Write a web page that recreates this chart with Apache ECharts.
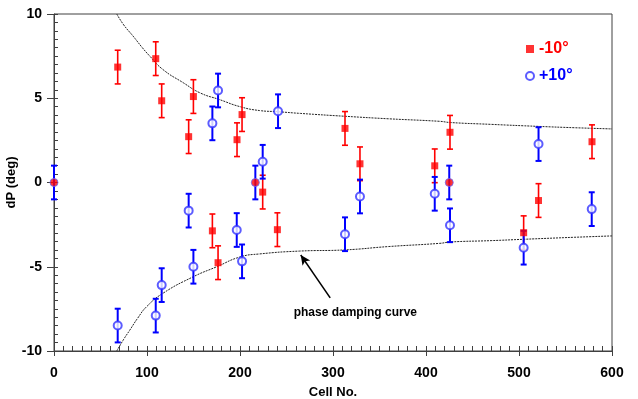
<!DOCTYPE html>
<html><head><meta charset="utf-8">
<script src="https://cdn.jsdelivr.net/npm/echarts@6/dist/echarts.min.js"></script>
<style>html,body{margin:0;padding:0;background:#fff}#c{width:638px;height:399px}</style>
</head><body><div id="c"></div>
<script>
// -10° series: [cell, dP]
const redX = [68.5, 109.4, 115.8, 144.8, 149.9, 170.3, 176.4, 196.8, 202.2, 224.4, 240.2, 312.9, 329, 409.4, 425.8, 505, 521, 578.5];
const redY = [6.85, 7.35, 4.85, 2.72, 5.1, -2.87, -4.76, 2.54, 4.03, -0.57, -2.8, 3.21, 1.11, 0.99, 2.98, -2.98, -1.07, 2.42];
// +10° series
const blueX = [68.5, 109.4, 115.8, 144.8, 149.9, 170.3, 176.4, 196.5, 202.2, 224.4, 240.9, 312.9, 329, 409.4, 425.8, 505, 521, 578.2];
const blueY = [-8.49, -7.9, -6.09, -1.67, -5.0, 3.51, 5.46, -2.82, -4.68, 1.23, 4.23, -3.07, -0.83, -0.67, -2.54, -3.87, 2.28, -1.58];
// reference (zero) cells
const zeroX = [0, 216.5, 425];
const zeroY = [0, 0, 0];
const errHalf = 1.0;
// phase damping curve
const upperX = [67.5, 75, 85, 95, 103, 117, 139, 157, 178, 200, 221, 241, 265, 313, 360, 415, 426, 470, 521, 560, 600];
const upperY = [10, 9.35, 8.69, 8.0, 7.5, 6.71, 5.92, 5.32, 4.92, 4.5, 4.27, 4.2, 4.1, 3.93, 3.78, 3.63, 3.56, 3.45, 3.33, 3.25, 3.18];
const lowerX = [67.5, 75, 81.4, 90, 99.4, 117, 149.5, 175, 200, 221, 264, 313, 360, 415, 426, 470, 505, 560, 600];
const lowerY = [-10, -9.3, -8.77, -8.05, -7.38, -6.58, -5.6, -5.0, -4.42, -4.24, -4.07, -4.0, -3.8, -3.61, -3.53, -3.45, -3.37, -3.25, -3.17];
const xTicks = [0, 100, 200, 300, 400, 500, 600];
const yTicks = [-10, -5, 0, 5, 10];
const annoText = 'phase damping curve';
const arrowFrom = [297, -6.85];
const arrowTo = [265.3, -4.3];
const annoAt = [324, -7.7];

const FONT = '"Liberation Sans", Arial, sans-serif';
const RED = '#ff0000', BLUE = '#0000ff';

function zip(a, b) { return a.map((v, i) => [v, b[i]]); }
function errData(xs, ys) { return xs.map((v, i) => [v, ys[i] - errHalf, ys[i] + errHalf]); }

function errRender(color, w) {
  return function (params, api) {
    const x = api.value(0);
    const lo = api.coord([x, api.value(1)]);
    const hi = api.coord([x, api.value(2)]);
    const cap = 3;
    const style = { stroke: color, lineWidth: w };
    return {
      type: 'group',
      children: [
        { type: 'line', shape: { x1: lo[0], y1: lo[1], x2: hi[0], y2: hi[1] }, style },
        { type: 'line', shape: { x1: lo[0] - cap, y1: lo[1], x2: lo[0] + cap, y2: lo[1] }, style },
        { type: 'line', shape: { x1: hi[0] - cap, y1: hi[1], x2: hi[0] + cap, y2: hi[1] }, style }
      ]
    };
  };
}

const chart = echarts.init(document.getElementById('c'), null, { renderer: 'canvas' });
const axisCol = '#404040';
const gridBox = { left: 54, top: 14, right: 26, bottom: 48, containLabel: false, outerBoundsMode: 'none' };
const xMin = xTicks[0], xMax = xTicks[xTicks.length - 1];
const yMin = yTicks[0], yMax = yTicks[yTicks.length - 1];
chart.setOption({
  animation: false,
  textStyle: { fontFamily: FONT },
  grid: [
    Object.assign({ show: true, borderColor: axisCol, borderWidth: 1, backgroundColor: 'transparent' }, gridBox),
    Object.assign({ show: false }, gridBox)
  ],
  legend: {
    orient: 'vertical', left: 520, top: 36, itemWidth: 8, itemHeight: 8, itemGap: 11,
    textStyle: { fontFamily: FONT, fontWeight: 'bold', fontSize: 16 },
    data: [
      { name: '-10°', textStyle: { color: RED } },
      { name: '+10°', textStyle: { color: BLUE } }
    ]
  },
  xAxis: [
    {
      type: 'value', gridIndex: 0, min: xMin, max: xMax, interval: 100,
      name: 'Cell No.', nameLocation: 'middle', nameGap: 35, nameMoveOverlap: false,
      nameTextStyle: { fontFamily: FONT, fontWeight: 'bold', fontSize: 13, color: '#000' },
      axisLine: { show: true, onZero: false, lineStyle: { color: axisCol, width: 1 } },
      axisTick: { show: true, inside: true, length: 5, lineStyle: { color: axisCol, width: 1 } },
      minorTick: { show: true, splitNumber: 10, length: 5, lineStyle: { color: axisCol, width: 1 } },
      axisLabel: { margin: 15, fontFamily: FONT, fontWeight: 'bold', fontSize: 14, color: '#000' },
      splitLine: { show: false }
    },
    {
      type: 'value', gridIndex: 1, min: xMin, max: xMax, interval: 100,
      axisLine: { show: false, onZero: false }, axisLabel: { show: false }, splitLine: { show: false },
      axisTick: { show: true, inside: false, length: 5, lineStyle: { color: axisCol, width: 1 } }
    }
  ],
  yAxis: [
    {
      type: 'value', gridIndex: 0, min: yMin, max: yMax, interval: 5,
      name: 'dP (deg)', nameLocation: 'middle', nameGap: 36, nameMoveOverlap: false,
      nameTextStyle: { fontFamily: FONT, fontWeight: 'bold', fontSize: 13, color: '#000' },
      axisLine: { show: true, onZero: false, lineStyle: { color: axisCol, width: 1 } },
      axisTick: { show: true, inside: true, length: 4, lineStyle: { color: axisCol, width: 1 } },
      minorTick: { show: true, splitNumber: 10, length: 4, lineStyle: { color: axisCol, width: 1 } },
      axisLabel: { margin: 12, fontFamily: FONT, fontWeight: 'bold', fontSize: 14, color: '#000' },
      splitLine: { show: false }
    },
    {
      type: 'value', gridIndex: 1, min: yMin, max: yMax, interval: 5,
      axisLine: { show: false, onZero: false }, axisLabel: { show: false }, splitLine: { show: false },
      axisTick: { show: true, inside: false, length: 7, lineStyle: { color: axisCol, width: 1 } }
    }
  ],
  series: [
    {
      type: 'line', name: 'upper', data: zip(upperX, upperY), showSymbol: false, smooth: true,
      lineStyle: { color: '#222', width: 1, type: [2, 1] }, silent: true, z: 1
    },
    {
      type: 'line', name: 'lower', data: zip(lowerX, lowerY), showSymbol: false, smooth: true,
      lineStyle: { color: '#222', width: 1, type: [2, 1] }, silent: true, z: 1,
      markLine: {
        silent: true, symbol: ['none', 'arrow'], symbolSize: [7, 10],
        lineStyle: { color: '#000', width: 1.5, type: 'solid' }, label: { show: false },
        data: [[{ coord: arrowFrom }, { coord: arrowTo }]]
      },
      markPoint: {
        silent: true, symbol: 'circle', symbolSize: 1, itemStyle: { color: 'rgba(0,0,0,0)' },
        label: { show: true, position: 'inside', formatter: annoText, color: '#000', fontFamily: FONT, fontWeight: 'bold', fontSize: 12 },
        data: [{ coord: annoAt }]
      }
    },
    { type: 'custom', name: 'redErr', data: errData(redX, redY), renderItem: errRender(RED, 1.6), z: 2 },
    { type: 'custom', name: 'blueErr', data: errData(blueX.concat(zeroX), blueY.concat(zeroY)), renderItem: errRender(BLUE, 2), z: 2 },
    {
      type: 'scatter', name: '-10°', data: zip(redX, redY), symbol: 'rect', symbolSize: 7,
      itemStyle: { color: RED }, z: 3
    },
    {
      type: 'scatter', name: '+10°', data: zip(blueX, blueY), symbol: 'emptyCircle', symbolSize: 8,
      itemStyle: { color: '#3333ff', borderColor: '#3333ff', borderWidth: 1 }, z: 3
    },
    {
      type: 'scatter', name: 'zero', data: zip(zeroX, zeroY), symbol: 'circle', symbolSize: 8,
      itemStyle: { color: RED, borderColor: '#6666ff', borderWidth: 1 }, z: 4
    }
  ]
});
</script>
</body></html>
